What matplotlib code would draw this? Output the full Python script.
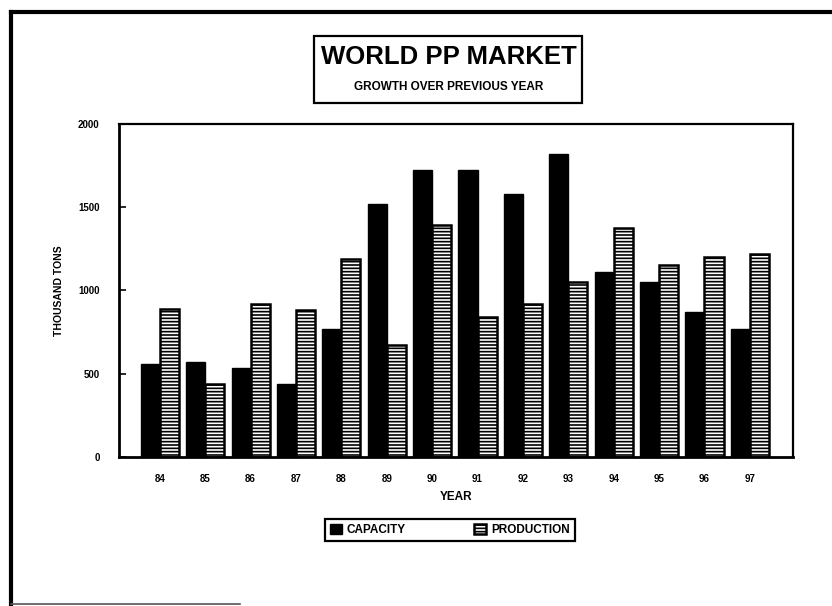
import matplotlib
matplotlib.use("Agg")
import matplotlib.pyplot as plt
from matplotlib.patches import Rectangle
from matplotlib.lines import Line2D
import numpy as np

years = ["84", "85", "86", "87", "88", "89", "90", "91", "92", "93", "94", "95", "96", "97"]
capacity = [560, 570, 535, 435, 770, 1520, 1720, 1720, 1575, 1815, 1110, 1050, 870, 770]
production = [890, 440, 915, 880, 1190, 670, 1390, 840, 920, 1050, 1375, 1150, 1200, 1220]
yticks = [0, 500, 1000, 1500, 2000]

plt.rcParams['font.family'] = ['Liberation Sans', 'DejaVu Sans']
plt.rcParams['hatch.linewidth'] = 1.2

W, H = 832, 606
fig = plt.figure(figsize=(W / 100, H / 100), dpi=100)

def fx(px):
    return px / W

def fy(py):
    return 1 - py / H

ax = fig.add_axes([fx(119), fy(457), fx(793) - fx(119), fy(123.5) - fy(457)])

x = np.arange(len(years))
bw = 0.42
ax.bar(x - bw / 2, capacity, width=bw, color='black', edgecolor='black', linewidth=1.0, label='CAPACITY')
ax.bar(x + bw / 2, production, width=bw, color='white', edgecolor='black', linewidth=1.8,
       hatch='-----', label='PRODUCTION')

ax.set_xlim(-0.9, 13.95)
ax.set_ylim(0, 2000)
ax.set_yticks(yticks)
ax.set_yticklabels([str(v) for v in yticks], fontsize=7, fontweight='bold')
ax.set_xticks(x)
ax.set_xticklabels(years, fontsize=7, fontweight='bold')
ax.tick_params(axis='y', direction='in', length=5, width=1.2, pad=14)
ax.tick_params(axis='x', length=0, pad=12)
for s in ['left', 'bottom']:
    ax.spines[s].set_linewidth(2.0)
for s in ['top', 'right']:
    ax.spines[s].set_linewidth(1.6)

ax.set_ylabel('THOUSAND TONS', fontsize=7.5, fontweight='bold', labelpad=10)
ax.set_xlabel('YEAR', fontsize=8.5, fontweight='bold', labelpad=5)

# title box
fig.patches.append(Rectangle((fx(314), fy(103)), fx(582) - fx(314), fy(36) - fy(103),
                             transform=fig.transFigure, fill=False, edgecolor='black', linewidth=1.6))
fig.text(fx(449), fy(57), 'WORLD PP MARKET', ha='center', va='center', fontsize=18.5,
         fontweight='bold')
fig.text(fx(449), fy(87), 'GROWTH OVER PREVIOUS YEAR', ha='center', va='center', fontsize=8.5,
         fontweight='bold')

# legend
leg = fig.legend(loc='center', bbox_to_anchor=(fx(450), fy(530)), ncol=2, frameon=True,
                 fancybox=False, edgecolor='black', framealpha=1.0,
                 prop={'size': 8.5, 'weight': 'bold'},
                 handlelength=1.0, handleheight=1.0, columnspacing=5.8, handletextpad=0.4,
                 borderpad=0.45)
leg.get_frame().set_linewidth(1.6)

# outer frame
fig.add_artist(Line2D([fx(11), fx(11)], [fy(12), fy(604)], transform=fig.transFigure,
                      color='black', linewidth=3))
fig.add_artist(Line2D([fx(11), fx(832)], [fy(12), fy(12)], transform=fig.transFigure,
                      color='black', linewidth=3))
fig.add_artist(Line2D([fx(11), fx(240)], [fy(604), fy(604)], transform=fig.transFigure,
                      color='#555555', linewidth=1.2))

fig.savefig('out.png', dpi=100, facecolor='white')
